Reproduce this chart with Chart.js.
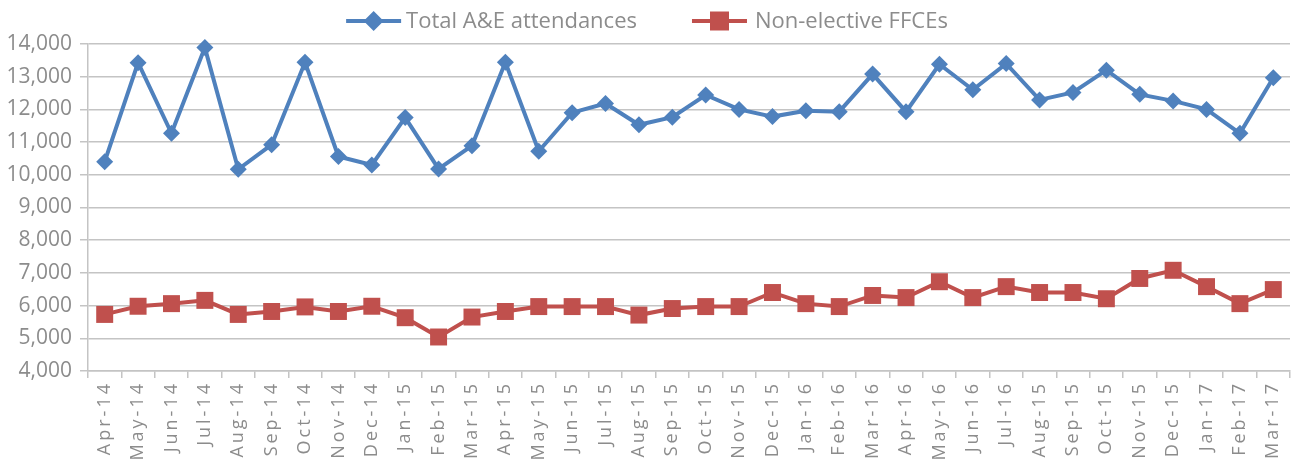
<!DOCTYPE html>
<html>
<head>
<meta charset="utf-8">
<script src="https://cdn.jsdelivr.net/npm/chart.js@4.4.1/dist/chart.umd.min.js"></script>
<style>
html,body{margin:0;padding:0;background:#ffffff;}
#wrap{width:1293px;height:461px;position:relative;}
canvas{display:block;}
</style>
</head>
<body>
<div id="wrap"><canvas id="chart" width="1293" height="461"></canvas></div>
<script>
const categories = ["Apr-14","May-14","Jun-14","Jul-14","Aug-14","Sep-14","Oct-14","Nov-14","Dec-14","Jan-15","Feb-15","Mar-15",
  "Apr-15","May-15","Jun-15","Jul-15","Aug-15","Sep-15","Oct-15","Nov-15","Dec-15","Jan-16","Feb-16","Mar-16",
  "Apr-16","May-16","Jun-16","Jul-16","Aug-15","Sep-15","Oct-15","Nov-15","Dec-15","Jan-17","Feb-17","Mar-17"];

const totalAE = [10400,13430,11270,13890,10170,10920,13440,10560,10300,11750,10180,10890,
  13440,10720,11900,12180,11530,11760,12440,12000,11780,11960,11930,13080,
  11930,13380,12600,13400,12290,12520,13200,12460,12260,12000,11270,12970];

const nonElectiveFFCEs = [5730,5980,6060,6160,5730,5820,5960,5820,5980,5630,5040,5650,
  5820,5970,5970,5970,5710,5910,5970,5970,6400,6060,5970,6310,
  6245,6730,6245,6580,6400,6400,6210,6830,7080,6580,6060,6490];

const seriesNames = ["Total A&E attendances","Non-elective FFCEs"];
const yMin = 4000, yMax = 14000, yStep = 1000;

const FONT = '"Open Sans", "Noto Sans", sans-serif';
const TEXT = '#8c8c8c';
const GRID = '#c4c4c4';
const BLUE = '#4f81bd';
const RED = '#c0504d';

const legendPlugin = {
  id: 'customLegend',
  afterDraw(chart) {
    const ctx = chart.ctx;
    ctx.save();
    ctx.font = '22px ' + FONT;
    ctx.textBaseline = 'middle';
    const sym = 55, gaps = [5, 8], between = 55, y = 21;
    const items = chart.data.datasets.map(ds => ({ds, tw: ctx.measureText(ds.label).width}));
    const W = items.reduce((a, it, i) => a + sym + gaps[i] + it.tw, 0) + between * (items.length - 1);
    let x = 647 - W / 2;
    items.forEach((it, i) => {
      const ds = it.ds;
      ctx.strokeStyle = ds.borderColor;
      ctx.lineWidth = 4;
      ctx.beginPath(); ctx.moveTo(x, y); ctx.lineTo(x + sym, y); ctx.stroke();
      ctx.fillStyle = ds.backgroundColor;
      const cx = x + sym / 2;
      ctx.beginPath();
      if (ds.pointStyle === 'rectRot') {
        const r = 10;
        ctx.moveTo(cx - r, y); ctx.lineTo(cx, y - r); ctx.lineTo(cx + r, y); ctx.lineTo(cx, y + r);
      } else {
        const h = 9.5;
        ctx.rect(cx - h, y - h, 2 * h, 2 * h);
      }
      ctx.closePath(); ctx.fill();
      ctx.fillStyle = TEXT;
      ctx.textAlign = 'left';
      ctx.fillText(ds.label, x + sym + gaps[i], y + 1);
      x += sym + gaps[i] + it.tw + between;
    });
    ctx.restore();
  }
};

const chart = new Chart(document.getElementById('chart'), {
  type: 'line',
  data: {
    labels: categories,
    datasets: [
      {
        label: seriesNames[0],
        data: totalAE,
        borderColor: BLUE,
        backgroundColor: BLUE,
        borderWidth: 4,
        pointStyle: 'rectRot',
        pointRadius: 8.5,
        pointHoverRadius: 8.5,
        pointBorderWidth: 0,
        tension: 0,
        clip: false
      },
      {
        label: seriesNames[1],
        data: nonElectiveFFCEs,
        borderColor: RED,
        backgroundColor: RED,
        borderWidth: 4,
        pointStyle: 'rect',
        pointRadius: 12,
        pointHoverRadius: 12,
        pointBorderWidth: 0,
        tension: 0,
        clip: false
      }
    ]
  },
  options: {
    responsive: false,
    animation: false,
    devicePixelRatio: 1,
    layout: { autoPadding: false, padding: { top: 44, right: 3, left: 0, bottom: 0 } },
    plugins: { legend: { display: false }, tooltip: { enabled: false } },
    scales: {
      x: {
        offset: true,
        grid: { offset: true, drawOnChartArea: false, drawTicks: true, tickLength: 7, color: GRID, lineWidth: 1.5 },
        border: { display: true, color: GRID, width: 1.5 },
        ticks: { color: TEXT, font: { family: FONT, size: 18 }, minRotation: 90, maxRotation: 90, autoSkip: false, padding: 3 },
        afterFit(s) { s.height = 90; s.paddingLeft = 0; s.paddingRight = 0; }
      },
      y: {
        min: yMin, max: yMax,
        ticks: { stepSize: yStep, color: TEXT, font: { family: FONT, size: 21 }, padding: 8,
          callback: v => v.toLocaleString('en-US') },
        grid: { color: GRID, lineWidth: 1.5, tickLength: 8, drawTicks: true },
        border: { display: true, color: GRID, width: 1.5 },
        afterFit(s) { s.width = 88; }
      }
    }
  },
  plugins: [legendPlugin]
});

// widen x tick label letter spacing to match the reference
(function () {
  const sx = chart.scales.x;
  const orig = sx.drawLabels;
  sx.drawLabels = function (area) {
    const ctx = this.ctx;
    ctx.save();
    if ('letterSpacing' in ctx) ctx.letterSpacing = '3px';
    orig.call(this, area);
    ctx.restore();
  };
  chart.draw();
})();
</script>
</body>
</html>
